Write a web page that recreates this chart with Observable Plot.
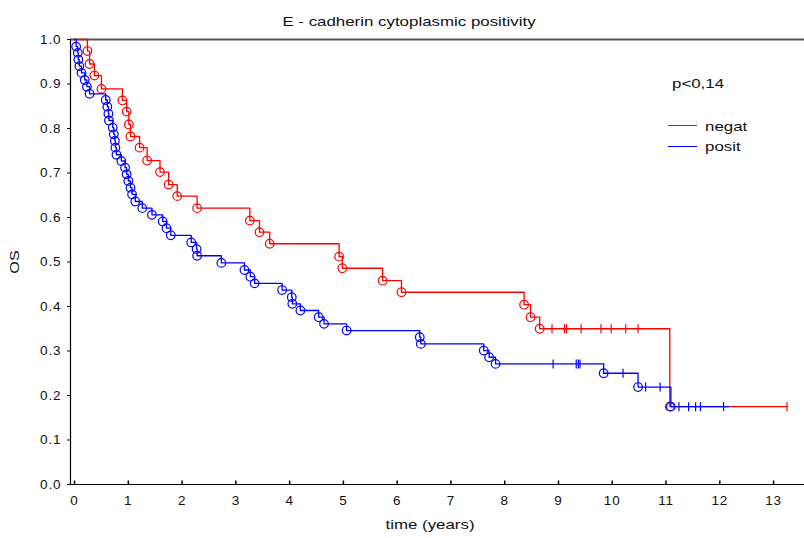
<!DOCTYPE html>
<html><head><meta charset="utf-8">
<script src="https://cdn.jsdelivr.net/npm/d3@7"></script>
<script src="https://cdn.jsdelivr.net/npm/@observablehq/plot@0.6"></script>
<style>
body{margin:0;background:#fff;font-family:"Liberation Sans",Arial,sans-serif;}
#wrap{position:relative;width:804px;height:538px;overflow:hidden;}
#wrap svg{position:absolute;left:0;top:0;}
#wrap svg text{letter-spacing:0.9px;}
.lbl{position:absolute;font-size:13.5px;line-height:14px;color:#111;white-space:nowrap;transform-origin:0 50%;transform:scaleX(1.25);}
.ctr{text-align:center;width:300px;transform-origin:50% 50%;}
.key{position:absolute;height:1.4px;}
</style></head><body>
<div id="wrap"></div>
<script>
// ---- text ----
const titleText = "E - cadherin cytoplasmic positivity";
const pValueText = "p<0,14";
const xLabel = "time (years)";
const yLabel = "OS";

// ---- groups ----
const groups = ["negat", "posit"];
const groupColors = ["#ff0000", "#0000ff"];

// ---- ticks ----
const xTicks = [0,1,2,3,4,5,6,7,8,9,10,11,12,13];
const yTicks = [0,0.1,0.2,0.3,0.4,0.5,0.6,0.7,0.8,0.9,1.0];

// ---- negat: events (circles), censored (+), end of follow-up ----
const negatEventTimes = [0.24,0.28,0.37,0.50,0.89,0.97,1.01,1.04,1.21,1.35,1.59,1.75,1.91,2.28,3.26,3.44,3.63,4.92,4.98,5.73,6.08,8.36,8.48,8.65,11.07];
const negatEventSurv  = [0.974,0.945,0.919,0.889,0.863,0.838,0.809,0.782,0.757,0.728,0.702,0.674,0.648,0.621,0.593,0.567,0.541,0.512,0.486,0.458,0.432,0.404,0.376,0.350,0.175];
const negatCensorTimes = [8.88,9.11,9.15,9.42,9.79,9.98,10.25,10.48,13.25];
const negatEnd = 13.25;

// ---- posit ----
const positEventTimes = [0.03,0.06,0.07,0.09,0.13,0.19,0.23,0.28,0.58,0.61,0.63,0.64,0.71,0.73,0.75,0.76,0.78,0.87,0.94,0.97,1.00,1.04,1.07,1.13,1.26,1.44,1.64,1.71,1.79,2.17,2.27,2.28,2.73,3.16,3.27,3.35,3.86,4.04,4.05,4.20,4.54,4.64,5.06,6.42,6.44,7.61,7.71,7.83,9.84,10.48,11.09];
const positEventSurv  = [0.984,0.970,0.955,0.940,0.925,0.909,0.894,0.878,0.864,0.849,0.833,0.818,0.802,0.787,0.772,0.757,0.741,0.727,0.712,0.697,0.682,0.667,0.652,0.636,0.621,0.606,0.591,0.576,0.560,0.544,0.529,0.514,0.498,0.482,0.467,0.452,0.437,0.421,0.406,0.391,0.376,0.361,0.346,0.331,0.316,0.301,0.286,0.271,0.250,0.219,0.175];
const positCensorTimes = [8.90,9.33,9.37,9.40,10.20,10.62,10.89,11.24,11.42,11.55,11.64,12.07];
const positEnd = 12.16;

// ---- build tables ----
function build(group, evT, evS, cT, end) {
  const items = [];
  evT.forEach((t, i) => items.push({t, s: evS[i], kind: "event"}));
  cT.forEach(t => items.push({t, kind: "censor"}));
  items.sort((a, b) => a.t - b.t || (a.kind === "event" ? -1 : 1));
  let cur = 1;
  const steps = [{group, t: 0, s: 1}];
  const events = [], censors = [];
  for (const it of items) {
    if (it.kind === "event") { cur = it.s; events.push({group, t: it.t, s: cur}); }
    else censors.push({group, t: it.t, s: cur});
    steps.push({group, t: it.t, s: cur});
  }
  steps.push({group, t: end, s: cur});
  return {steps, events, censors};
}
const neg = build("negat", negatEventTimes, negatEventSurv, negatCensorTimes, negatEnd);
const pos = build("posit", positEventTimes, positEventSurv, positCensorTimes, positEnd);

const vbar = {draw(ctx, size) { const r = Math.sqrt(size / Math.PI); ctx.moveTo(0, -r); ctx.lineTo(0, r); }};
const xDomain = [-0.075, 13.575];

const chart = Plot.plot({
  width: 804, height: 538,
  marginLeft: 70, marginRight: 0, marginTop: 39, marginBottom: 54,
  style: {fontFamily: "Liberation Sans, Arial, sans-serif", fontSize: "13.5px", background: "transparent", overflow: "visible", color: "#111"},
  x: {domain: xDomain, label: null},
  y: {domain: [0, 1], label: null},
  marks: [
    Plot.ruleY([1], {stroke: "#555", strokeWidth: 2.2}),
    Plot.ruleY([0], {stroke: "#000", strokeWidth: 1}),
    Plot.ruleX([xDomain[0]], {stroke: "#000", strokeWidth: 1.2}),
    Plot.dot(xTicks, {x: d => d, y: 0, symbol: vbar, r: 2, dy: -2, stroke: "#000"}),
    Plot.axisX({ticks: xTicks, tickSize: 0, tickPadding: 11, tickFormat: d3.format("d"), fontSize: 13.5, label: null}),
    Plot.axisY({ticks: yTicks, tickSize: 3, tickPadding: 6, tickFormat: d3.format(".1f"), fontSize: 13.5, label: null}),
    Plot.line(neg.steps, {x: "t", y: "s", curve: "step-after", stroke: groupColors[0], strokeWidth: 1.3}),
    Plot.dot(neg.events, {x: "t", y: "s", r: 4.3, stroke: groupColors[0], fill: "none", strokeWidth: 1.2}),
    Plot.dot(neg.censors, {x: "t", y: "s", r: 4.5, symbol: vbar, stroke: groupColors[0], strokeWidth: 1.2}),
    Plot.line(pos.steps, {x: "t", y: "s", curve: "step-after", stroke: groupColors[1], strokeWidth: 1.3}),
    Plot.dot(pos.events, {x: "t", y: "s", r: 4.3, stroke: groupColors[1], fill: "none", strokeWidth: 1.2}),
    Plot.dot(pos.censors, {x: "t", y: "s", r: 4.5, symbol: vbar, stroke: groupColors[1], strokeWidth: 1.2})
  ]
});
const wrap = document.getElementById("wrap");
wrap.appendChild(chart);

function label(text, cls, css) {
  const d = document.createElement("div");
  d.className = cls; d.textContent = text;
  Object.assign(d.style, css);
  wrap.appendChild(d);
  return d;
}
label(titleText, "lbl ctr", {left: (409 - 150) + "px", top: "15px"});
label(pValueText, "lbl", {left: "672px", top: "77px"});
label(xLabel, "lbl ctr", {left: (430 - 150) + "px", top: "518px"});
label(yLabel, "lbl ctr", {left: (15 - 150) + "px", top: "255px", transform: "rotate(-90deg) scaleX(1.2)"});
groups.forEach((g, i) => {
  const k = document.createElement("div");
  k.className = "key";
  Object.assign(k.style, {left: "668px", width: "29px", top: (125 + i * 20.5) + "px", background: groupColors[i]});
  wrap.appendChild(k);
  label(g, "lbl", {left: "705px", top: (120 + i * 20) + "px"});
});
</script>
</body></html>
